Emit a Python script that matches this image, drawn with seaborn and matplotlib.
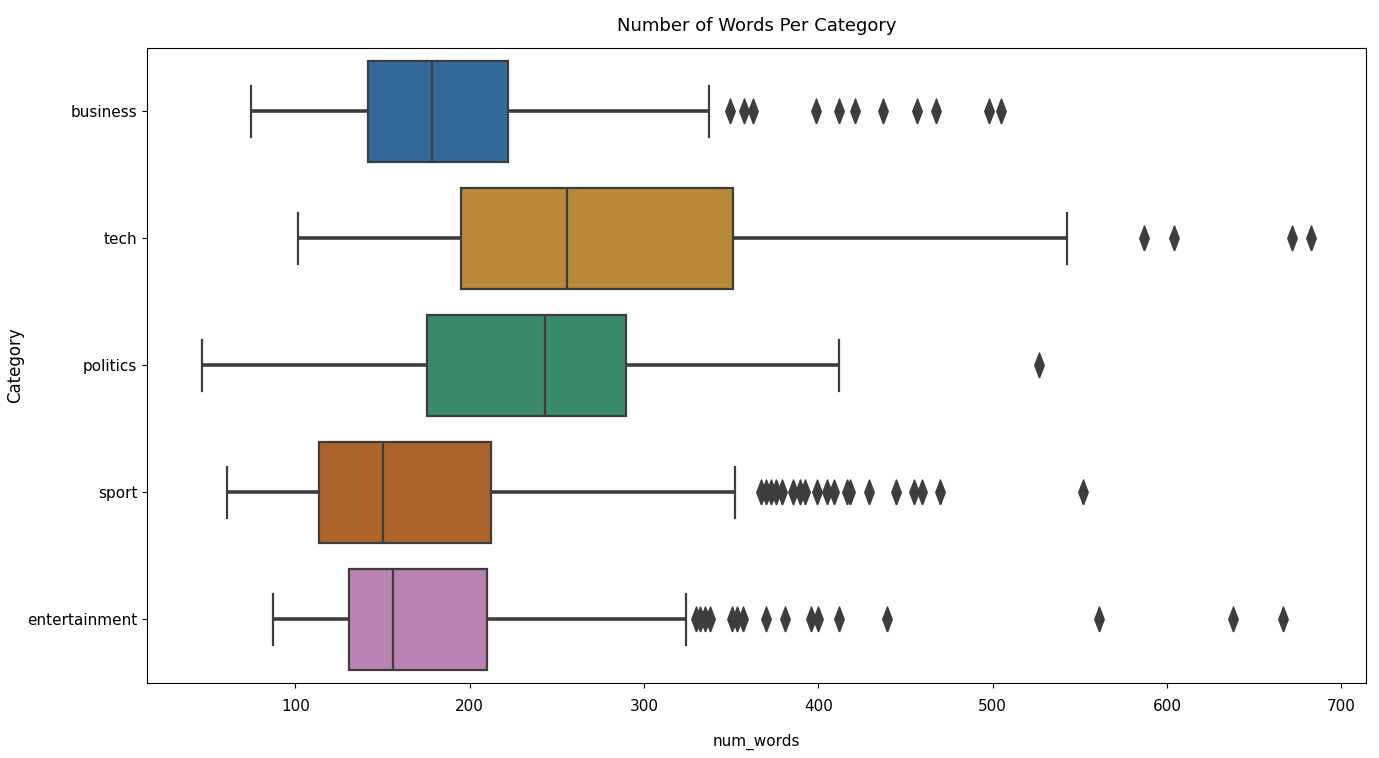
import numpy as np
import pandas as pd
import matplotlib
matplotlib.use("Agg")
import matplotlib.pyplot as plt
import seaborn as sns

# box summaries (num_words)
categories = ["business", "tech", "politics", "sport", "entertainment"]
whisker_low = [74.7, 101.7, 46.6, 60.5, 87.3]
q1 = [141.5, 194.7, 175.5, 113.3, 130.7]
median = [178.5, 255.5, 243.0, 150.0, 156.2]
q3 = [221.7, 350.8, 289.6, 212.1, 209.9]
whisker_high = [337.3, 542.4, 411.7, 352.2, 324.0]

outliers_business = [349.4, 357.6, 362.5, 398.5, 411.6, 420.8, 436.8, 456.8, 467.3, 498.0, 504.9]
outliers_tech = [587.0, 604.1, 671.6, 682.4]
outliers_politics = [526.7]
outliers_sport = [366.9, 370.1, 372.8, 375.5, 379.0, 385.7, 389.3, 392.4, 399.2, 405.0,
                  409.0, 416.2, 418.4, 429.2, 444.8, 455.1, 459.6, 469.9, 551.8]
outliers_entertainment = [330.0, 332.1, 335.2, 337.9, 350.4, 353.1, 356.7, 370.1, 380.8,
                          395.6, 399.6, 411.7, 439.4, 560.7, 637.7, 666.3]
outliers = [outliers_business, outliers_tech, outliers_politics, outliers_sport, outliers_entertainment]

# muted colorblind palette as it appears in the picture
colors = ["#346a98", "#b8893a", "#3c8a6c", "#ac642d", "#b983b4"]


def sample_for(lo, a, m, b, hi, out):
    # n = 4k+1 points so the quartiles land exactly on a, m, b
    k = len(out) + 1
    vals = [lo] + [a] * k + [m] * k + [b] * k + [hi] * (k - len(out)) + list(out)
    return vals


rows = []
for i, cat in enumerate(categories):
    for v in sample_for(whisker_low[i], q1[i], median[i], q3[i], whisker_high[i], outliers[i]):
        rows.append({"category": cat, "num_words": v})
df = pd.DataFrame(rows)

gray = "#3d3d3d"
# tall thin diamond, like the stretched fliers in the picture
tall_diamond = [(0, -1), (0.38, 0), (0, 1), (-0.38, 0), (0, -1)]

fig = plt.figure(figsize=(13.79, 7.58), dpi=100)
ax = fig.add_axes([0.1066, 0.099, 0.884, 0.8377])
sns.boxplot(data=df, x="num_words", y="category", hue="category", order=categories,
            hue_order=categories, palette=colors, saturation=1, legend=False,
            width=0.8, linewidth=1.6, linecolor=gray, whis=1.5, ax=ax,
            whiskerprops=dict(linewidth=2.6),
            flierprops=dict(marker=tall_diamond, markersize=18, markerfacecolor=gray,
                            markeredgecolor=gray))

ax.set_title("Number of Words Per Category", fontsize=13, pad=12)
ax.set_xlabel("num_words", fontsize=11, labelpad=14)
ax.set_ylabel("Category", fontsize=12, labelpad=2)
ax.tick_params(labelsize=11)
ax.tick_params(axis="x", pad=8)

fig.savefig("out.png", dpi=100)
